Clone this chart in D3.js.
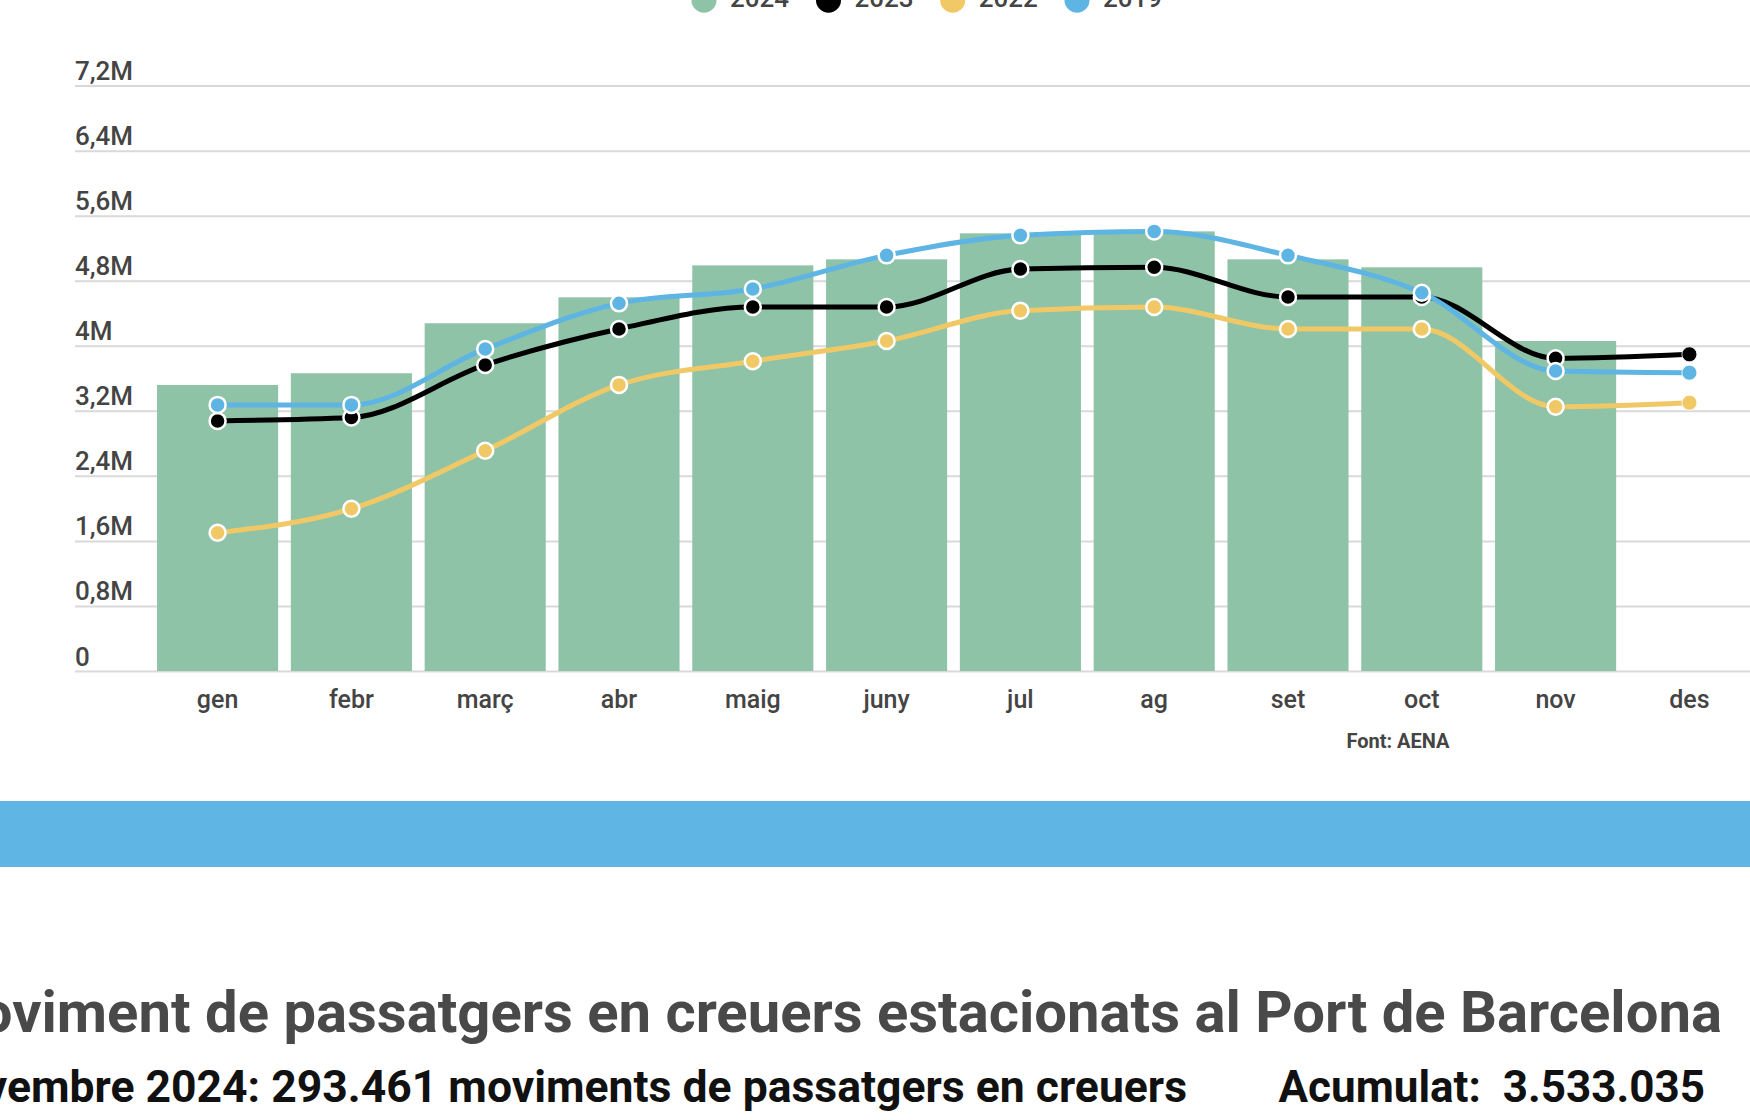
<!DOCTYPE html>
<html>
<head>
<meta charset="utf-8">
<script src="https://cdn.jsdelivr.net/npm/d3@7"></script>
<style>
  body { margin: 0; background: #fff; }
  svg { display: block; font-family: Roboto, "Noto Sans", sans-serif; }
</style>
</head>
<body>
<div id="chart"></div>
<script>
// months and tick labels
const months = ["gen", "febr", "març", "abr", "maig", "juny", "jul", "ag", "set", "oct", "nov", "des"];
const yTicks = [0, 800000, 1600000, 2400000, 3200000, 4000000, 4800000, 5600000, 6400000, 7200000];
const yTickLabels = ["0", "0,8M", "1,6M", "2,4M", "3,2M", "4M", "4,8M", "5,6M", "6,4M", "7,2M"];

// series values
const v2024 = [3518000, 3662000, 4277000, 4596000, 4989000, 5063000, 5383000, 5407000, 5063000, 4965000, 4059000];
const v2023 = [3076000, 3117000, 3764000, 4207000, 4477000, 4477000, 4944000, 4965000, 4600000, 4600000, 3846000, 3895000];
const v2022 = [1700000, 1995000, 2708000, 3519000, 3810000, 4059000, 4432000, 4477000, 4207000, 4207000, 3251000, 3300000];
const v2019 = [3273000, 3273000, 3961000, 4522000, 4698000, 5112000, 5358000, 5407000, 5112000, 4653000, 3690000, 3669000];

const legendNames = ["2024", "2023", "2022", "2019"];
const colors = { "2024": "#8ec3a7", "2023": "#000000", "2022": "#f0c966", "2019": "#5eb5e4" };

const title = "Moviment de passatgers en creuers estacionats al Port de Barcelona";
const subtitle = "Novembre 2024: 293.461 moviments de passatgers en creuers";
const cumul = "Acumulat:  3.533.035";
const source = "Font: AENA";

const W = 1750, H = 1120;

const svg = d3.select("#chart").append("svg")
  .attr("width", W)
  .attr("height", H);

// scales
const x = d3.scaleBand()
  .domain(months)
  .range([150.7, 1756.3])
  .paddingInner(0.095)
  .paddingOuter(0.0475);

const y = d3.scaleLinear()
  .domain([0, 7200000])
  .range([671, 85.6]);

// y grid + labels
const yAxis = svg.append("g")
  .attr("transform", "translate(75,0)")
  .call(d3.axisLeft(y)
    .tickValues(yTicks)
    .tickSize(-(W - 75))
    .tickFormat((d, i) => yTickLabels[i]));
yAxis.select(".domain").remove();
yAxis.selectAll(".tick line")
  .attr("stroke", "#d9d9d9")
  .attr("stroke-width", 2);
yAxis.selectAll(".tick text")
  .attr("x", 0)
  .attr("y", -6)
  .attr("dy", 0)
  .attr("text-anchor", "start")
  .attr("fill", "#444")
  .style("font-size", "26px")
  .style("font-weight", 500)
  .style("font-family", "Roboto");

// bars (2024)
svg.append("g")
  .selectAll("rect")
  .data(v2024)
  .join("rect")
  .attr("x", (d, i) => x(months[i]))
  .attr("y", d => y(d))
  .attr("width", x.bandwidth())
  .attr("height", d => y(0) - y(d))
  .attr("fill", colors["2024"]);

// x axis labels
const xAxis = svg.append("g")
  .attr("transform", `translate(0,${y(0)})`)
  .call(d3.axisBottom(x).tickSize(0));
xAxis.select(".domain").remove();
xAxis.selectAll(".tick text")
  .attr("y", 36.7)
  .attr("dy", 0)
  .attr("fill", "#444")
  .style("font-size", "25px")
  .style("font-weight", 500)
  .style("font-family", "Roboto");

// lines
const lineSeries = [
  { name: "2023", values: v2023 },
  { name: "2022", values: v2022 },
  { name: "2019", values: v2019 }
];

const line = d3.line()
  .x((d, i) => x(months[i]) + x.bandwidth() / 2)
  .y(d => y(d))
  .curve(d3.curveMonotoneX);

lineSeries.forEach(s => {
  svg.append("path")
    .datum(s.values)
    .attr("fill", "none")
    .attr("stroke", colors[s.name])
    .attr("stroke-width", 5)
    .attr("d", line);
});

// markers, the last one (des) has no white ring
lineSeries.forEach(s => {
  svg.append("g")
    .selectAll("circle")
    .data(s.values)
    .join("circle")
    .attr("cx", (d, i) => x(months[i]) + x.bandwidth() / 2)
    .attr("cy", d => y(d))
    .attr("r", (d, i) => i === s.values.length - 1 ? 7.5 : 8)
    .attr("fill", colors[s.name])
    .attr("stroke", "#fff")
    .attr("stroke-width", (d, i) => i === s.values.length - 1 ? 0.8 : 2.5);
});

// source note
svg.append("text")
  .attr("x", 1398)
  .attr("y", 748.3)
  .attr("text-anchor", "middle")
  .attr("fill", "#444")
  .style("font-size", "20px")
  .style("font-weight", 700)
  .text(source);

// legend (cut at the top edge)
const legendX = [704, 828.5, 952.7, 1077];
const legend = svg.append("g");
legendNames.forEach((n, i) => {
  legend.append("circle")
    .attr("cx", legendX[i])
    .attr("cy", 0.2)
    .attr("r", 12.5)
    .attr("fill", colors[n]);
  legend.append("text")
    .attr("x", legendX[i] + 26)
    .attr("y", 7.3)
    .attr("fill", "#444")
    .style("font-size", "26px")
    .style("font-weight", 500)
    .text(n);
});

// blue band
svg.append("rect")
  .attr("x", 0)
  .attr("y", 801)
  .attr("width", W)
  .attr("height", 66)
  .attr("fill", "#5fb6e4");

// title block
svg.append("text")
  .attr("x", 1722)
  .attr("y", 1031.7)
  .attr("text-anchor", "end")
  .attr("fill", "#494949")
  .style("font-size", "58px")
  .style("font-weight", 700)
  .text(title);

svg.append("text")
  .attr("x", 1187)
  .attr("y", 1101.7)
  .attr("text-anchor", "end")
  .attr("fill", "#111")
  .style("font-size", "44.5px")
  .style("font-weight", 700)
  .text(subtitle);

svg.append("text")
  .attr("x", 1705)
  .attr("y", 1101.7)
  .attr("text-anchor", "end")
  .attr("fill", "#111")
  .style("font-size", "44px")
  .style("font-weight", 700)
  .style("white-space", "pre")
  .text(cumul);
</script>
</body>
</html>
